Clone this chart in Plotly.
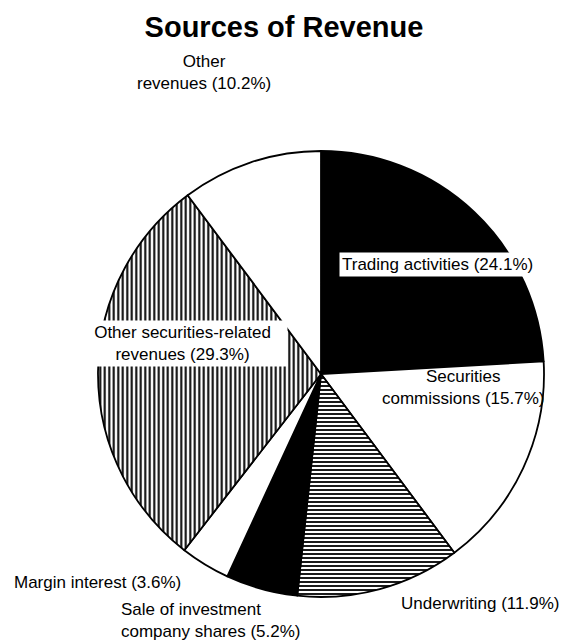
import plotly.graph_objects as go

W, H = 572, 642

labels = ["Trading activities", "Securities commissions", "Underwriting",
          "Sale of investment company shares", "Margin interest",
          "Other securities-related revenues", "Other revenues"]
values = [24.1, 15.7, 11.9, 5.2, 3.6, 29.3, 10.2]
label_texts = ["Trading activities (24.1%)", "Securities<br>commissions (15.7%)",
               "Underwriting (11.9%)", "Sale of investment<br>company shares (5.2%)",
               "Margin interest (3.6%)", "Other securities-related<br>revenues (29.3%)",
               "Other<br>revenues (10.2%)"]

colors = ["black", "white", "white", "black", "white", "white", "white"]
shapes = ["", "", "-", "", "", "|", ""]

cx, cy, r = 313, 366, 223

fig = go.Figure(go.Pie(
    labels=labels, values=values, sort=False, direction="clockwise", rotation=0,
    textinfo="none", hoverinfo="label+percent",
    marker=dict(colors=colors, line=dict(color="black", width=1.8),
                pattern=dict(shape=shapes, fgcolor="black", bgcolor="white",
                             size=[5, 5, 4, 5, 5, 4.5, 5], solidity=0.45, fillmode="replace")),
    domain=dict(x=[(cx - r) / W, (cx + r) / W], y=[1 - (cy + r) / H, 1 - (cy - r) / H]),
    showlegend=False,
))

font = dict(family="Liberation Sans, Arial, sans-serif", size=17, color="black")

# (text index, x px, y px, align, xanchor, bg, side padding)
ann = [
    (6, 196, 64, "center", "center", None, 0),
    (0, 429, 256, "center", "center", "white", 0),
    (1, 455, 380, "center", "center", None, 0),
    (5, 174, 335, "center", "center", "white", 3),
    (4, 3, 574, "left", "left", None, 0),
    (3, 110, 612, "left", "left", None, 0),
    (2, 472, 595, "center", "center", None, 0),
]
for i, x, y, al, xa, bg, pad in ann:
    txt = label_texts[i]
    if pad:
        sp = "&nbsp;" * pad
        txt = "<br>".join(sp + s + sp for s in txt.split("<br>"))
    fig.add_annotation(x=x / W, y=1 - y / H, xref="paper", yref="paper",
                       text=txt, showarrow=False, align=al, xanchor=xa,
                       yanchor="middle", font=font,
                       bgcolor=bg if bg else "rgba(0,0,0,0)", borderpad=2)

fig.update_layout(
    width=W, height=H, margin=dict(l=0, r=0, t=0, b=0),
    paper_bgcolor="white", plot_bgcolor="white",
    title=dict(text="<b>Sources of Revenue</b>", x=276 / W, xanchor="center",
               y=1 - 19 / H, yanchor="middle",
               font=dict(family="Liberation Sans, Arial, sans-serif", size=29, color="black")),
)

fig.write_html("out.html")
